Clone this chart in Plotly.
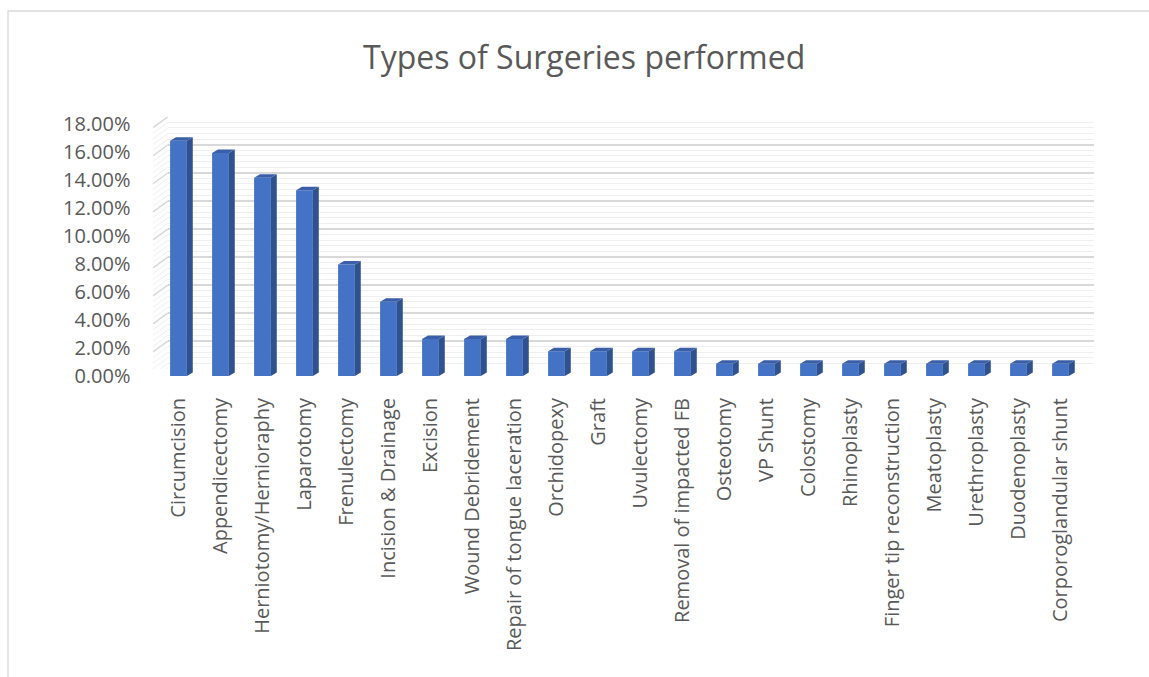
import plotly.graph_objects as go

# ---- data ----
categories = ["Circumcision", "Appendicectomy", "Herniotomy/Hernioraphy", "Laparotomy",
              "Frenulectomy", "Incision & Drainage", "Excision", "Wound Debridement",
              "Repair of tongue laceration", "Orchidopexy", "Graft", "Uvulectomy",
              "Removal of impacted FB", "Osteotomy", "VP Shunt", "Colostomy", "Rhinoplasty",
              "Finger tip reconstruction", "Meatoplasty", "Urethroplasty", "Duodenoplasty",
              "Corporoglandular shunt"]
percent_values = [0.1681, 0.1593, 0.1416, 0.1327, 0.0796, 0.0531, 0.0265, 0.0265, 0.0265,
                  0.0177, 0.0177, 0.0177, 0.0177, 0.0088, 0.0088, 0.0088, 0.0088, 0.0088,
                  0.0088, 0.0088, 0.0088, 0.0088]
title_text = "Types of Surgeries performed"
y_ticks = [0, 0.02, 0.04, 0.06, 0.08, 0.10, 0.12, 0.14, 0.16, 0.18]

W, H = 1149, 677
def px(x): return x / W
def py(y): return 1 - y / H

FONT = "Open Sans"
TXT = "#595959"
FRONT = "#4472C4"
SIDE = "#2F528F"
TOP = "#3A5FA8"

fig = go.Figure()

n = len(categories)
idx = list(range(n))
bw = 0.4
dx = 0.14      # depth offset in category units
dy = 0.0025    # depth offset in value units

fig.add_trace(go.Bar(x=idx, y=percent_values, width=bw, marker=dict(color=FRONT, line=dict(width=0)),
                     xaxis="x2", yaxis="y2", hoverinfo="skip", showlegend=False))

sx, sy, tx, ty = [], [], [], []
for i, v in zip(idx, percent_values):
    r = i + bw / 2
    l = i - bw / 2
    sx += [r, r + dx, r + dx, r, r, None]
    sy += [0, dy, v + dy, v, 0, None]
    tx += [l, l + dx, r + dx, r, l, None]
    ty += [v, v + dy, v + dy, v, v, None]
fig.add_trace(go.Scatter(x=sx, y=sy, fill="toself", fillcolor=SIDE, mode="lines",
                         line=dict(width=0, color=SIDE), xaxis="x2", yaxis="y2",
                         hoverinfo="skip", showlegend=False))
fig.add_trace(go.Scatter(x=tx, y=ty, fill="toself", fillcolor=TOP, mode="lines",
                         line=dict(width=0, color=TOP), xaxis="x2", yaxis="y2",
                         hoverinfo="skip", showlegend=False))

fig.add_trace(go.Scatter(x=[0, 1], y=[0, 0.18], mode="markers", marker=dict(opacity=0),
                         xaxis="x", yaxis="y", hoverinfo="skip", showlegend=False))

shapes = []
minor_vals = [round(k * 0.004, 4) for k in range(0, 46)]
for v in minor_vals:
    major = abs((v / 0.02) - round(v / 0.02)) < 1e-6
    shapes.append(dict(type="line", xref="paper", yref="y", ysizemode="pixel", yanchor=v,
                       x0=px(153), x1=px(168), y0=-11, y1=0, layer="below",
                       line=dict(color="#d9d9d9" if major else "#efefef", width=1.5 if major else 1)))
shapes.append(dict(type="rect", xref="paper", yref="paper", x0=px(8), y0=py(11), x1=1.05, y1=-0.05,
                   line=dict(color="#d9d9d9", width=1.3), layer="below"))

fig.update_layout(
    template="none",
    width=W, height=H,
    margin=dict(l=0, r=0, t=0, b=0, autoexpand=False),
    paper_bgcolor="white", plot_bgcolor="rgba(0,0,0,0)",
    showlegend=False,
    font=dict(family=FONT, color=TXT),
    shapes=shapes,
    annotations=[dict(text=title_text, xref="paper", yref="paper", x=px(584), y=py(56),
                      showarrow=False, font=dict(family=FONT, size=32, color=TXT),
                      xanchor="center", yanchor="middle")],
    xaxis=dict(domain=[px(168), px(1094)], range=[0, 1], showgrid=False, zeroline=False,
               showticklabels=False, fixedrange=True, automargin=False, showline=False, ticks=""),
    yaxis=dict(domain=[py(369), py(116.7)], range=[0, 0.18], showgrid=True,
               gridcolor="#d9d9d9", gridwidth=1.5, dtick=0.02, tick0=0, ticks="",
               minor=dict(showgrid=True, dtick=0.004, gridcolor="#efefef", gridwidth=1),
               zeroline=False, showticklabels=False, fixedrange=True, automargin=False, showline=False),
    xaxis2=dict(domain=[px(157.5), px(1081.5)], range=[-0.5, n - 0.5], anchor="y2",
                tickmode="array", tickvals=idx, ticktext=categories, tickangle=-90,
                ticks="", ticklabelstandoff=17, showgrid=False, zeroline=False, showline=False,
                tickfont=dict(family=FONT, size=20, color=TXT), fixedrange=True, automargin=False),
    yaxis2=dict(domain=[py(376), py(124)], range=[0, 0.18], anchor="x2",
                tickmode="array", tickvals=y_ticks, tickformat=".2%", ticks="",
                ticklabelstandoff=26, showgrid=False, zeroline=False, showline=False,
                tickfont=dict(family=FONT, size=20, color=TXT), fixedrange=True, automargin=False),
)

fig.write_html("out.html", config={"displayModeBar": False},
               post_script="document.body.style.margin='0';document.body.style.overflow='hidden';")
